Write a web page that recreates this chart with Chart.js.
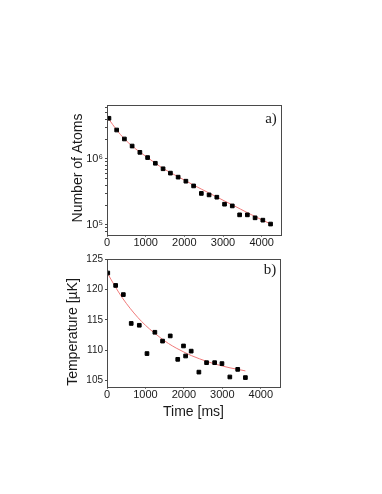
<!DOCTYPE html>
<html><head><meta charset="utf-8">
<script src="https://cdn.jsdelivr.net/npm/chart.js@4"></script>
<style>
html,body{margin:0;padding:0;background:#fff;width:382px;height:494px;overflow:hidden}
.c{position:absolute;left:0;width:382px}
</style></head><body>
<div class="c" style="top:0;height:248px"><canvas id="ca"></canvas></div>
<div class="c" style="top:248px;height:246px"><canvas id="cb"></canvas></div>
<script>
// Panel a) number of atoms vs time
const timesA = [50,250,450,650,850,1050,1250,1450,1640,1840,2040,2240,2440,2640,2840,3040,3240,3430,3630,3830,4030,4230];
const atoms  = [4.14e6,2.75e6,2.01e6,1.57e6,1.26e6,1.05e6,8.6e5,7.1e5,6.1e5,5.3e5,4.6e5,3.9e5,3.0e5,2.85e5,2.63e5,2.06e5,1.94e5,1.42e5,1.42e5,1.28e5,1.18e5,1.03e5];
const fitTimesA = [0,50,250,450,650,850,1050,1250,1450,1650,1850,2050,2250,2450,2650,2850,3050,3250,3450,3650,3850,4050,4250];
const fitAtoms  = [4.37e6,4.0e6,2.75e6,2.02e6,1.57e6,1.27e6,1.05e6,8.61e5,7.19e5,6.17e5,5.33e5,4.62e5,3.98e5,3.47e5,3.02e5,2.63e5,2.29e5,2.0e5,1.74e5,1.51e5,1.32e5,1.16e5,1.02e5];
const logTicksA = [8e4,9e4,1e5,2e5,3e5,4e5,5e5,6e5,7e5,8e5,9e5,1e6,2e6,3e6,4e6,5e6,6e6];
const logLabelsA = {100000:'10\u2075',1000000:'10\u2076'};

// Panel b) temperature vs time
const timesB = [20,225,425,630,840,1040,1245,1445,1645,1840,1990,2045,2190,2390,2590,2800,2990,3195,3400,3600];
const temps  = [122.7,120.65,119.15,114.4,114.1,109.45,112.95,111.5,112.35,108.5,110.7,109.05,109.85,106.4,107.95,107.95,107.8,105.6,106.85,105.5];
const fitTimesB = [0,200,400,600,800,1000,1200,1400,1600,1800,2000,2200,2400,2600,2800,3000,3200,3400,3600];
const fitTemps  = [122.8,120.6,118.6,116.9,115.4,114.1,113.0,112.0,111.1,110.35,109.7,109.1,108.6,108.15,107.75,107.4,107.1,106.85,106.6];

const xTickValues = [0,1000,2000,3000,4000];
const yTickValuesB = [105,110,115,120,125];

const FONT = "'Liberation Sans', Arial, sans-serif";
const TXT = '#1a1a1a';
const FRAME = '#4a4a4a';
const FIT = '#f07a7a';

function pts(xs, ys){ return xs.map((x,i)=>({x:x, y:ys[i]})); }

function framePlugin(texts){
  return {
    id:'frame',
    afterDraw(chart){
      const {ctx, chartArea:a} = chart;
      ctx.save();
      ctx.strokeStyle = FRAME; ctx.lineWidth = 1;
      ctx.strokeRect(Math.round(a.left)+0.5, Math.round(a.top)+0.5, Math.round(a.right-a.left), Math.round(a.bottom-a.top));
      ctx.fillStyle = TXT;
      ctx.textAlign='center'; ctx.textBaseline='middle';
      texts.forEach(t=>{
        ctx.save();
        ctx.font = t.font;
        ctx.translate(t.x, t.y);
        if (t.rot) ctx.rotate(t.rot);
        ctx.fillText(t.text, 0, 0);
        ctx.restore();
      });
      ctx.restore();
    }
  };
}

const xScaleBase = (h)=>({
  type:'linear', min:0, max:4500,
  border:{display:false},
  grid:{display:true, drawOnChartArea:false, tickLength:2, color:FRAME},
  afterBuildTicks(s){ s.ticks = xTickValues.map(v=>({value:v})); },
  ticks:{autoSkip:false, padding:0, color:TXT, font:{family:FONT, size:11}, maxRotation:0,
    callback:(v)=>String(v)},
  afterFit(s){ s.height = h; }
});

new Chart(document.getElementById('ca'), {
  type:'scatter',
  data:{datasets:[
    {data:pts(timesA, atoms), backgroundColor:'#000', borderColor:'#000', pointStyle:'rect', pointRadius:2.6, order:1},
    {data:pts(fitTimesA, fitAtoms), showLine:true, borderColor:FIT, borderWidth:1, pointRadius:0, cubicInterpolationMode:'monotone', order:2}
  ]},
  options:{
    responsive:true, maintainAspectRatio:false, animation:false,
    layout:{padding:{left:60, right:101, top:104.5, bottom:0}},
    plugins:{legend:{display:false}, tooltip:{enabled:false}},
    scales:{
      x: xScaleBase(13.3),
      y:{type:'logarithmic', min:7.1e4, max:6.7e6,
        border:{display:false},
        grid:{display:true, drawOnChartArea:false, tickLength:2, color:FRAME},
        afterBuildTicks(s){ s.ticks = logTicksA.map(v=>({value:v})); },
        ticks:{autoSkip:false, padding:2, color:TXT, font:{family:FONT, size:11},
          callback:(v)=> logLabelsA[Math.round(v)] || ''},
        afterFit(s){ s.width = 47; }
      }
    }
  },
  plugins:[framePlugin([
    {text:'Number of Atoms', x:78, y:168, rot:-Math.PI/2, font:'14px '+FONT},
    {text:'a)', x:271, y:119, font:'15px "Liberation Serif", serif'}
  ])]
});

new Chart(document.getElementById('cb'), {
  type:'scatter',
  data:{datasets:[
    {data:pts(timesB, temps), backgroundColor:'#000', borderColor:'#000', pointStyle:'rect', pointRadius:2.6, order:1},
    {data:pts(fitTimesB, fitTemps), showLine:true, borderColor:FIT, borderWidth:1, pointRadius:0, cubicInterpolationMode:'monotone', order:2}
  ]},
  options:{
    responsive:true, maintainAspectRatio:false, animation:false,
    layout:{padding:{left:60, right:102, top:11, bottom:90}},
    plugins:{legend:{display:false}, tooltip:{enabled:false}},
    scales:{
      x: xScaleBase(17.3),
      y:{type:'linear', min:104, max:125,
        border:{display:false},
        grid:{display:true, drawOnChartArea:false, tickLength:2, color:FRAME},
        afterBuildTicks(s){ s.ticks = yTickValuesB.map(v=>({value:v})); },
        ticks:{autoSkip:false, padding:2, color:TXT, font:{family:FONT, size:10}},
        afterFit(s){ s.width = 47; }
      }
    }
  },
  plugins:[framePlugin([
    {text:'Temperature [\u00b5K]', x:72.7, y:84, rot:-Math.PI/2, font:'14px '+FONT},
    {text:'b)', x:270, y:22, font:'15px "Liberation Serif", serif'},
    {text:'Time [ms]', x:193.5, y:164, font:'14px '+FONT}
  ])]
});
</script>
</body></html>
